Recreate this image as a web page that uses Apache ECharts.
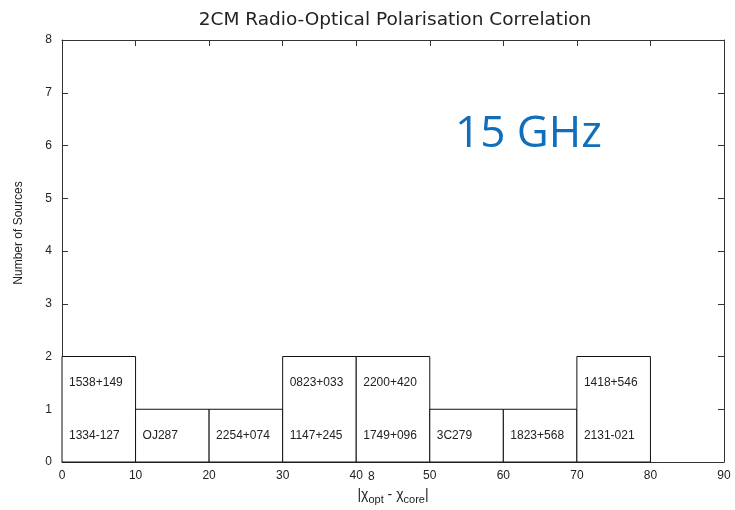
<!DOCTYPE html>
<html><head><meta charset="utf-8">
<script src="https://cdn.jsdelivr.net/npm/echarts@6/dist/echarts.min.js"></script>
<style>html,body{margin:0;padding:0;background:#fff}#c{width:735px;height:510px}</style>
</head><body><div id="c"></div>
<script>
var binStarts = [0, 10, 20, 30, 40, 50, 60, 70];
var binWidth = 10;
var counts = [2, 1, 1, 2, 2, 1, 1, 2];
var lowerLabels = ['1334-127', 'OJ287', '2254+074', '1147+245', '1749+096', '3C279', '1823+568', '2131-021'];
var upperLabels = ['1538+149', '', '', '0823+033', '2200+420', '', '', '1418+546'];
var xTicks = [0, 10, 20, 30, 40, 50, 60, 70, 80, 90];
var yTicks = [0, 1, 2, 3, 4, 5, 6, 7, 8];

var data = binStarts.map(function (s, i) { return [s, counts[i], i]; });
var font = 'Liberation Sans, Arial, sans-serif';
var txtColor = '#222';

var chart = echarts.init(document.getElementById('c'));
function ax(extra) {
  return Object.assign({
    axisLine: { show: true, onZero: false, lineStyle: { color: '#333', width: 1 } },
    axisTick: { show: true, inside: true, length: 6, lineStyle: { color: '#333' } },
    splitLine: { show: false }
  }, extra);
}
chart.setOption({
  animation: false,
  title: {
    text: '2CM Radio-Optical Polarisation Correlation',
    left: 390, textAlign: 'center', top: 6,
    textStyle: { fontFamily: 'DejaVu Sans, sans-serif', fontSize: 18.5, fontWeight: 'normal', color: txtColor }
  },
  grid: { left: 62, right: 11, top: 40, bottom: 48, outerBoundsMode: 'none', containLabel: false },
  xAxis: [
    ax({
      type: 'value', min: xTicks[0], max: xTicks[xTicks.length - 1], interval: 10,
      position: 'bottom',
      axisLabel: { fontFamily: font, fontSize: 12, color: txtColor, margin: 8 },
      name: '|χ{sub|opt} - χ{sub|core}|', nameLocation: 'middle', nameGap: 24,
      nameTextStyle: {
        fontFamily: font, fontSize: 14, color: txtColor,
        rich: { sub: { fontFamily: font, fontSize: 11, color: txtColor, padding: [8, 0, 0, 0] } }
      }
    }),
    ax({
      type: 'value', min: xTicks[0], max: xTicks[xTicks.length - 1], interval: 10,
      position: 'top', axisLabel: { show: false }
    })
  ],
  yAxis: [
    ax({
      type: 'value', min: yTicks[0], max: yTicks[yTicks.length - 1], interval: 1,
      position: 'left',
      axisLabel: { fontFamily: font, fontSize: 12, color: txtColor, margin: 10 }
    }),
    ax({
      type: 'value', min: yTicks[0], max: yTicks[yTicks.length - 1], interval: 1,
      position: 'right', axisLabel: { show: false }
    })
  ],
  series: [{
    type: 'custom',
    data: data,
    encode: { x: 0, y: 1 },
    renderItem: function (params, api) {
      var s = api.value(0), c = api.value(1), idx = api.value(2);
      var p0 = api.coord([s, 0]);
      var p1 = api.coord([s + binWidth, c]);
      var children = [{
        type: 'rect',
        shape: { x: p0[0], y: p1[1], width: p1[0] - p0[0], height: p0[1] - p1[1] },
        style: { fill: '#fff', stroke: '#111', lineWidth: 1 }
      }];
      var lo = api.coord([s, 0.5]);
      if (lowerLabels[idx]) children.push({
        type: 'text', x: lo[0] + 7, y: lo[1],
        style: { text: lowerLabels[idx], fontFamily: font, fontSize: 12, fill: txtColor, verticalAlign: 'middle', align: 'left' }
      });
      var up = api.coord([s, 1.5]);
      if (upperLabels[idx]) children.push({
        type: 'text', x: up[0] + 7, y: up[1],
        style: { text: upperLabels[idx], fontFamily: font, fontSize: 12, fill: txtColor, verticalAlign: 'middle', align: 'left' }
      });
      return { type: 'group', children: children };
    }
  }],
  graphic: [
    { type: 'text', x: 18.5, y: 233, rotation: Math.PI / 2,
      style: { text: 'Number of Sources', fontFamily: font, fontSize: 12, fill: txtColor, align: 'center', verticalAlign: 'middle' } },
    { type: 'text', left: 455, top: 112, style: { text: '15 GHz', fontFamily: 'Open Sans, Noto Sans, sans-serif', fontSize: 44, fill: '#0f6fbd' } },
    { type: 'text', left: 368, top: 471, style: { text: '8', fontFamily: font, fontSize: 12, fill: txtColor } }
  ]
});
</script>
</body></html>
